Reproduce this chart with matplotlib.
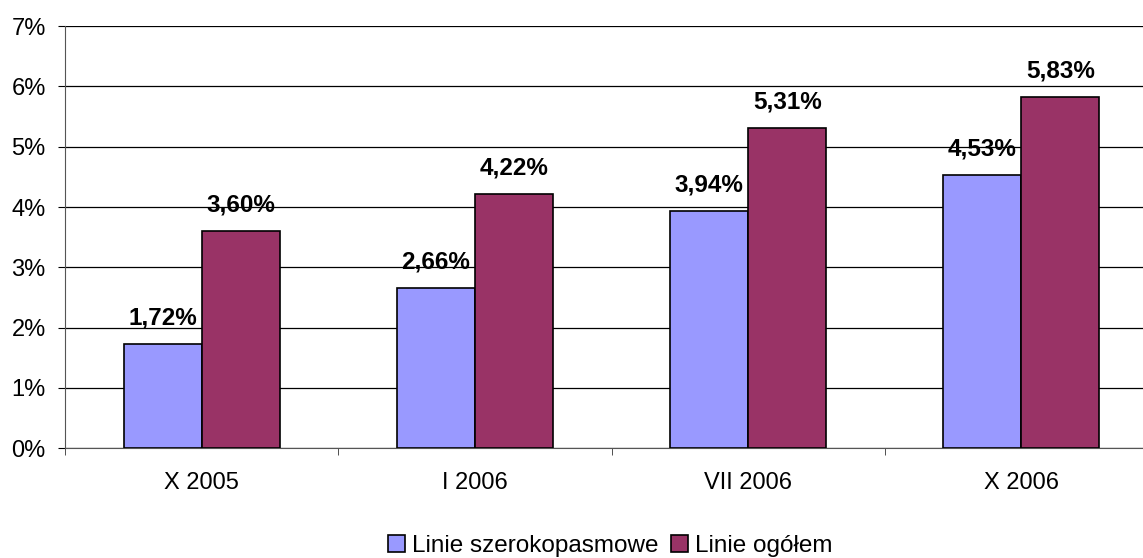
import numpy as np
import matplotlib.pyplot as plt
from matplotlib.ticker import FuncFormatter

plt.rcParams['font.family'] = ['Liberation Sans', 'DejaVu Sans']

categories = ['X 2005', 'I 2006', 'VII 2006', 'X 2006']
szerokopasmowe = [1.72, 2.66, 3.94, 4.53]
ogolem = [3.60, 4.22, 5.31, 5.83]

fig = plt.figure(figsize=(11.43, 5.58), dpi=100)
# the plot area runs past the right edge of the picture, as in the original
ax = fig.add_axes([0.057, 0.197, 0.956, 0.756])

x = np.arange(len(categories))
w = 0.286
b1 = ax.bar(x - w / 2, szerokopasmowe, w, color='#9999ff', edgecolor='black',
            linewidth=1.2, label='Linie szerokopasmowe', zorder=3)
b2 = ax.bar(x + w / 2, ogolem, w, color='#993366', edgecolor='black',
            linewidth=1.2, label='Linie ogółem', zorder=3)

for bars, vals in ((b1, szerokopasmowe), (b2, ogolem)):
    for r, v in zip(bars, vals):
        ax.text(r.get_x() + r.get_width() / 2, v + 0.24,
                ('%.2f%%' % v).replace('.', ','), ha='center', va='bottom',
                fontsize=17.5, fontweight='bold')

ax.set_ylim(0, 7)
ax.set_xlim(-0.5, 3.5)
ax.set_yticks(range(0, 8))
ax.yaxis.set_major_formatter(FuncFormatter(lambda v, p: '%d%%' % v))
ax.grid(axis='y', color='black', linewidth=0.9, zorder=0)
ax.set_xticks(x)
ax.set_xticklabels(categories)
ax.set_xticks([-0.5, 0.5, 1.5, 2.5], minor=True)
ax.tick_params(axis='x', which='major', length=0, pad=17, labelsize=17)
ax.tick_params(axis='x', which='minor', length=5, direction='out', color='#333333')
ax.tick_params(axis='y', length=5, direction='out', labelsize=17, pad=9)
for s in ('top', 'right'):
    ax.spines[s].set_visible(False)
ax.spines['left'].set_color('#555555')
ax.spines['bottom'].set_color('#555555')

fig.legend(handles=[b1, b2], loc='center', bbox_to_anchor=(0.534, 0.022), ncol=2,
           frameon=False, fontsize=17.5, handlelength=0.7, handleheight=0.7,
           handletextpad=0.3, columnspacing=0.5, borderpad=0)

fig.savefig('out.png', dpi=100)
